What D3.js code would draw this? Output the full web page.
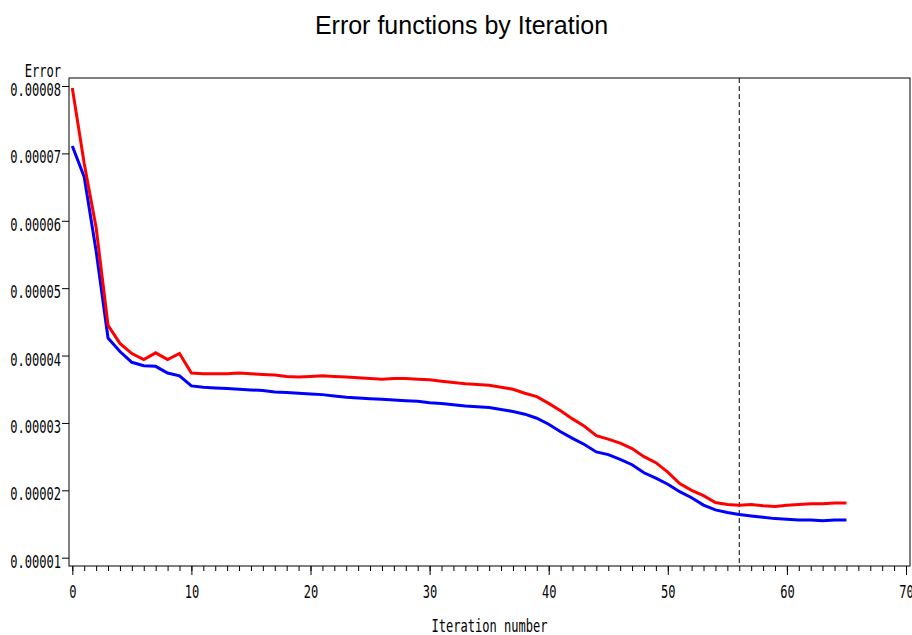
<!DOCTYPE html>
<html>
<head>
<meta charset="utf-8">
<script src="https://cdn.jsdelivr.net/npm/d3@7"></script>
<style>
  body { margin: 0; background: #fff; }
  svg { display: block; }
  .sas { font-family: "DejaVu Sans Mono", monospace; font-size: 17px; fill: #000; }
</style>
</head>
<body>
<div id="chart"></div>
<script>
// iteration numbers and the two error series (values in units of 1e-6)
const iterations = d3.range(0, 66);
const redError = [
  79.7, 68.5, 59.0, 44.5, 41.8, 40.3, 39.4, 40.4, 39.4, 40.3,
  37.4, 37.3, 37.3, 37.3, 37.4, 37.3, 37.2, 37.1, 36.9, 36.8,
  36.9, 37.0, 36.9, 36.8, 36.7, 36.6, 36.5, 36.6, 36.6, 36.5,
  36.4, 36.2, 36.0, 35.8, 35.7, 35.6, 35.3, 35.0, 34.4, 33.9,
  32.9, 31.8, 30.6, 29.5, 28.1, 27.6, 27.0, 26.2, 25.0, 24.1,
  22.7, 21.0, 20.0, 19.2, 18.2, 17.9, 17.8, 17.9, 17.7, 17.6,
  17.8, 17.9, 18.0, 18.0, 18.1, 18.1
];
const blueError = [
  71.1, 66.5, 55.5, 42.6, 40.6, 39.0, 38.5, 38.4, 37.4, 37.0,
  35.5, 35.3, 35.2, 35.1, 35.0, 34.9, 34.8, 34.6, 34.5, 34.4,
  34.3, 34.2, 34.0, 33.8, 33.7, 33.6, 33.5, 33.4, 33.3, 33.2,
  33.0, 32.9, 32.7, 32.5, 32.4, 32.3, 32.0, 31.7, 31.3, 30.7,
  29.8, 28.7, 27.7, 26.8, 25.7, 25.3, 24.6, 23.8, 22.6, 21.8,
  20.9, 19.8, 18.9, 17.8, 17.1, 16.7, 16.4, 16.2, 16.0, 15.8,
  15.7, 15.6, 15.6, 15.5, 15.6, 15.6
];
const yTicks = [0.00001, 0.00002, 0.00003, 0.00004, 0.00005, 0.00006, 0.00007, 0.00008];
const xMajorTicks = [0, 10, 20, 30, 40, 50, 60, 70];
const xMinorTicks = d3.range(0, 71);
const refIteration = 56;

const width = 912, height = 635;
const frame = { left: 69, top: 78, right: 910, bottom: 566 };
const sx = 0.71; // horizontal squeeze for the narrow axis font

const svg = d3.select("#chart").append("svg")
  .attr("width", width)
  .attr("height", height);

const x = d3.scaleLinear().domain([0, 70]).range([72.3, 906]);
const y = d3.scaleLinear().domain([0.00001, 0.00008]).range([557.7, 86]);

// title
svg.append("text")
  .attr("x", 461.5)
  .attr("y", 34)
  .attr("text-anchor", "middle")
  .style("font-family", "'Liberation Sans', Arial, sans-serif")
  .style("font-size", "25px")
  .text("Error functions by Iteration");

// plot frame
svg.append("rect")
  .attr("x", frame.left)
  .attr("y", frame.top)
  .attr("width", frame.right - frame.left)
  .attr("height", frame.bottom - frame.top)
  .attr("fill", "none")
  .attr("stroke", "#000")
  .attr("stroke-width", 1);

// y axis
const yAxis = svg.append("g")
  .attr("transform", `translate(${frame.left},0)`)
  .call(d3.axisLeft(y).tickValues(yTicks).tickSize(7).tickFormat(d => d.toFixed(5)));
yAxis.select(".domain").remove();
yAxis.selectAll("text")
  .attr("class", "sas")
  .attr("font-family", null).attr("font-size", null)
  .attr("dy", null)
  .attr("y", 9.5)
  .attr("x", -8 / sx)
  .attr("transform", `scale(${sx},1)`);

// x axis: minor ticks every iteration, major ticks every 10
const xMinor = svg.append("g")
  .attr("transform", `translate(0,${frame.bottom})`)
  .call(d3.axisBottom(x).tickValues(xMinorTicks).tickSize(5).tickFormat(""));
xMinor.select(".domain").remove();

const xMajor = svg.append("g")
  .attr("transform", `translate(0,${frame.bottom})`)
  .call(d3.axisBottom(x).tickValues(xMajorTicks).tickSize(9).tickFormat(d3.format("d")));
xMajor.select(".domain").remove();
xMajor.selectAll("text")
  .attr("class", "sas")
  .attr("font-family", null).attr("font-size", null)
  .attr("dy", null)
  .attr("y", 32)
  .attr("transform", `scale(${sx},1)`);

// axis titles
svg.append("text")
  .attr("class", "sas")
  .attr("text-anchor", "end")
  .attr("transform", `translate(61,77) scale(${sx},1)`)
  .text("Error");

svg.append("text")
  .attr("class", "sas")
  .attr("text-anchor", "middle")
  .attr("transform", `translate(489.5,632) scale(${sx},1)`)
  .text("Iteration number");

// reference line
svg.append("line")
  .attr("x1", x(refIteration)).attr("x2", x(refIteration))
  .attr("y1", frame.top).attr("y2", frame.bottom)
  .attr("stroke", "#000")
  .attr("stroke-width", 1)
  .attr("stroke-dasharray", "5,3");

// series
const line = d3.line()
  .x((d, i) => x(iterations[i]))
  .y(d => y(d * 1e-6));

svg.append("path")
  .datum(blueError)
  .attr("fill", "none")
  .attr("stroke", "#0000ff")
  .attr("stroke-width", 3)
  .attr("d", line);

svg.append("path")
  .datum(redError)
  .attr("fill", "none")
  .attr("stroke", "#ff0000")
  .attr("stroke-width", 3)
  .attr("d", line);
</script>
</body>
</html>
